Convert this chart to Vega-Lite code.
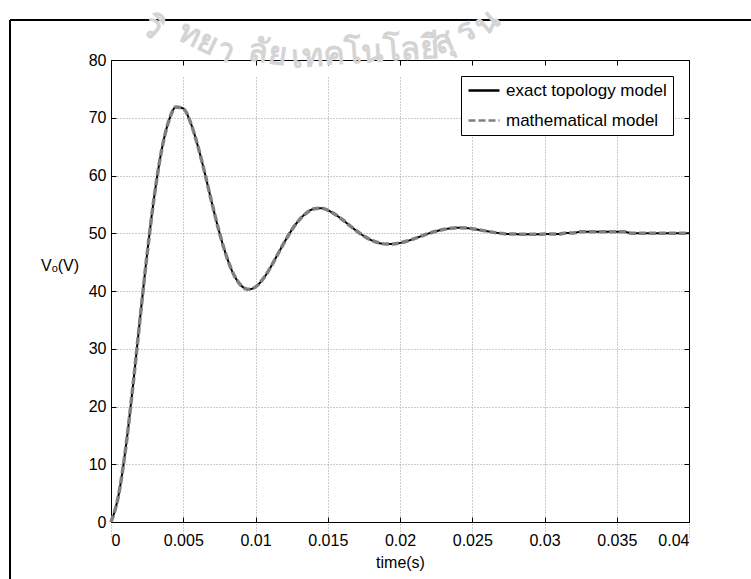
{
  "$schema": "https://vega.github.io/schema/vega-lite/v6.json",
  "width": 741,
  "height": 559,
  "autosize": {"type": "none"},
  "padding": {"left": 10, "top": 20, "right": 0, "bottom": 0},
  "background": "white",
  "config": {
    "view": {"stroke": "black", "strokeWidth": 2, "strokeDash": [741, 1300, 559, 0]},
    "font": "Liberation Sans",
    "axis": {"domainColor": "black", "domainWidth": 1, "tickColor": "black", "tickWidth": 1, "labelColor": "black", "labelFont": "Liberation Sans", "labelFontSize": 16, "titleColor": "black", "titleFont": "Liberation Sans", "titleFontSize": 16, "titleFontWeight": "normal", "gridColor": "#9a9a9a", "gridDash": [1, 2], "gridWidth": 1},
    "legend": {"title": null, "orient": "none", "legendX": 451, "legendY": 56, "symbolType": "stroke", "symbolSize": 961, "symbolStrokeWidth": 2.5, "labelFontSize": 17, "labelFont": "Liberation Sans", "labelColor": "black", "labelOffset": 5, "labelLimit": 400, "padding": 6, "clipHeight": 17, "rowPadding": 12, "strokeColor": "black", "fillColor": "white", "cornerRadius": 0},
    "text": {"fontSize": 32, "fontWeight": "bold", "color": "#d4d4d4", "baseline": "middle"}
  },
  "datasets": {
    "vo": [
      {"t":0,"v":0,"model":"exact topology model"},{"t":0.0005,"v":4.34,"model":"exact topology model"},{"t":0.001,"v":12.46,"model":"exact topology model"},{"t":0.0015,"v":23.16,"model":"exact topology model"},{"t":0.002,"v":34.95,"model":"exact topology model"},{"t":0.0025,"v":46.42,"model":"exact topology model"},{"t":0.003,"v":56.48,"model":"exact topology model"},{"t":0.0035,"v":64.33,"model":"exact topology model"},{"t":0.004,"v":69.46,"model":"exact topology model"},{"t":0.0045,"v":71.86,"model":"exact topology model"},{"t":0.005,"v":71.6,"model":"exact topology model"},{"t":0.0055,"v":69.2,"model":"exact topology model"},{"t":0.006,"v":65.21,"model":"exact topology model"},{"t":0.0065,"v":60.33,"model":"exact topology model"},{"t":0.007,"v":55.07,"model":"exact topology model"},{"t":0.0075,"v":50.15,"model":"exact topology model"},{"t":0.008,"v":45.97,"model":"exact topology model"},{"t":0.0085,"v":42.83,"model":"exact topology model"},{"t":0.009,"v":40.96,"model":"exact topology model"},{"t":0.0095,"v":40.29,"model":"exact topology model"},{"t":0.01,"v":40.71,"model":"exact topology model"},{"t":0.0105,"v":42.01,"model":"exact topology model"},{"t":0.011,"v":43.93,"model":"exact topology model"},{"t":0.0115,"v":46.17,"model":"exact topology model"},{"t":0.012,"v":48.45,"model":"exact topology model"},{"t":0.0125,"v":50.54,"model":"exact topology model"},{"t":0.013,"v":52.24,"model":"exact topology model"},{"t":0.0135,"v":53.45,"model":"exact topology model"},{"t":0.014,"v":54.2,"model":"exact topology model"},{"t":0.0145,"v":54.35,"model":"exact topology model"},{"t":0.015,"v":54.0,"model":"exact topology model"},{"t":0.0155,"v":53.29,"model":"exact topology model"},{"t":0.016,"v":52.38,"model":"exact topology model"},{"t":0.0165,"v":51.38,"model":"exact topology model"},{"t":0.017,"v":50.39,"model":"exact topology model"},{"t":0.0175,"v":49.52,"model":"exact topology model"},{"t":0.018,"v":48.82,"model":"exact topology model"},{"t":0.0185,"v":48.36,"model":"exact topology model"},{"t":0.019,"v":48.14,"model":"exact topology model"},{"t":0.0195,"v":48.14,"model":"exact topology model"},{"t":0.02,"v":48.33,"model":"exact topology model"},{"t":0.0205,"v":48.66,"model":"exact topology model"},{"t":0.021,"v":49.08,"model":"exact topology model"},{"t":0.0215,"v":49.53,"model":"exact topology model"},{"t":0.022,"v":49.97,"model":"exact topology model"},{"t":0.0225,"v":50.35,"model":"exact topology model"},{"t":0.023,"v":50.65,"model":"exact topology model"},{"t":0.0235,"v":50.85,"model":"exact topology model"},{"t":0.024,"v":50.95,"model":"exact topology model"},{"t":0.0245,"v":50.92,"model":"exact topology model"},{"t":0.025,"v":50.78,"model":"exact topology model"},{"t":0.0255,"v":50.58,"model":"exact topology model"},{"t":0.026,"v":50.36,"model":"exact topology model"},{"t":0.0265,"v":50.15,"model":"exact topology model"},{"t":0.027,"v":49.98,"model":"exact topology model"},{"t":0.0275,"v":49.86,"model":"exact topology model"},{"t":0.028,"v":49.85,"model":"exact topology model"},{"t":0.0285,"v":49.84,"model":"exact topology model"},{"t":0.029,"v":49.84,"model":"exact topology model"},{"t":0.0295,"v":49.84,"model":"exact topology model"},{"t":0.03,"v":49.85,"model":"exact topology model"},{"t":0.0305,"v":49.85,"model":"exact topology model"},{"t":0.031,"v":49.86,"model":"exact topology model"},{"t":0.0315,"v":50.05,"model":"exact topology model"},{"t":0.032,"v":50.06,"model":"exact topology model"},{"t":0.0325,"v":50.25,"model":"exact topology model"},{"t":0.033,"v":50.26,"model":"exact topology model"},{"t":0.0335,"v":50.26,"model":"exact topology model"},{"t":0.034,"v":50.26,"model":"exact topology model"},{"t":0.0345,"v":50.26,"model":"exact topology model"},{"t":0.035,"v":50.26,"model":"exact topology model"},{"t":0.0355,"v":50.25,"model":"exact topology model"},{"t":0.036,"v":50.02,"model":"exact topology model"},{"t":0.0365,"v":50.01,"model":"exact topology model"},{"t":0.037,"v":50.0,"model":"exact topology model"},{"t":0.0375,"v":50.0,"model":"exact topology model"},{"t":0.038,"v":50.0,"model":"exact topology model"},{"t":0.0385,"v":50.0,"model":"exact topology model"},{"t":0.039,"v":50.0,"model":"exact topology model"},{"t":0.0395,"v":50.0,"model":"exact topology model"},{"t":0.04,"v":50.0,"model":"exact topology model"},
      {"t":0,"v":0,"model":"mathematical model"},{"t":0.0005,"v":4.34,"model":"mathematical model"},{"t":0.001,"v":12.46,"model":"mathematical model"},{"t":0.0015,"v":23.16,"model":"mathematical model"},{"t":0.002,"v":34.95,"model":"mathematical model"},{"t":0.0025,"v":46.42,"model":"mathematical model"},{"t":0.003,"v":56.48,"model":"mathematical model"},{"t":0.0035,"v":64.33,"model":"mathematical model"},{"t":0.004,"v":69.46,"model":"mathematical model"},{"t":0.0045,"v":71.86,"model":"mathematical model"},{"t":0.005,"v":71.6,"model":"mathematical model"},{"t":0.0055,"v":69.2,"model":"mathematical model"},{"t":0.006,"v":65.21,"model":"mathematical model"},{"t":0.0065,"v":60.33,"model":"mathematical model"},{"t":0.007,"v":55.07,"model":"mathematical model"},{"t":0.0075,"v":50.15,"model":"mathematical model"},{"t":0.008,"v":45.97,"model":"mathematical model"},{"t":0.0085,"v":42.83,"model":"mathematical model"},{"t":0.009,"v":40.96,"model":"mathematical model"},{"t":0.0095,"v":40.29,"model":"mathematical model"},{"t":0.01,"v":40.71,"model":"mathematical model"},{"t":0.0105,"v":42.01,"model":"mathematical model"},{"t":0.011,"v":43.93,"model":"mathematical model"},{"t":0.0115,"v":46.17,"model":"mathematical model"},{"t":0.012,"v":48.45,"model":"mathematical model"},{"t":0.0125,"v":50.54,"model":"mathematical model"},{"t":0.013,"v":52.24,"model":"mathematical model"},{"t":0.0135,"v":53.45,"model":"mathematical model"},{"t":0.014,"v":54.2,"model":"mathematical model"},{"t":0.0145,"v":54.35,"model":"mathematical model"},{"t":0.015,"v":54.0,"model":"mathematical model"},{"t":0.0155,"v":53.29,"model":"mathematical model"},{"t":0.016,"v":52.38,"model":"mathematical model"},{"t":0.0165,"v":51.38,"model":"mathematical model"},{"t":0.017,"v":50.39,"model":"mathematical model"},{"t":0.0175,"v":49.52,"model":"mathematical model"},{"t":0.018,"v":48.82,"model":"mathematical model"},{"t":0.0185,"v":48.36,"model":"mathematical model"},{"t":0.019,"v":48.14,"model":"mathematical model"},{"t":0.0195,"v":48.14,"model":"mathematical model"},{"t":0.02,"v":48.33,"model":"mathematical model"},{"t":0.0205,"v":48.66,"model":"mathematical model"},{"t":0.021,"v":49.08,"model":"mathematical model"},{"t":0.0215,"v":49.53,"model":"mathematical model"},{"t":0.022,"v":49.97,"model":"mathematical model"},{"t":0.0225,"v":50.35,"model":"mathematical model"},{"t":0.023,"v":50.65,"model":"mathematical model"},{"t":0.0235,"v":50.85,"model":"mathematical model"},{"t":0.024,"v":50.95,"model":"mathematical model"},{"t":0.0245,"v":50.92,"model":"mathematical model"},{"t":0.025,"v":50.78,"model":"mathematical model"},{"t":0.0255,"v":50.58,"model":"mathematical model"},{"t":0.026,"v":50.36,"model":"mathematical model"},{"t":0.0265,"v":50.15,"model":"mathematical model"},{"t":0.027,"v":49.98,"model":"mathematical model"},{"t":0.0275,"v":49.86,"model":"mathematical model"},{"t":0.028,"v":49.85,"model":"mathematical model"},{"t":0.0285,"v":49.84,"model":"mathematical model"},{"t":0.029,"v":49.84,"model":"mathematical model"},{"t":0.0295,"v":49.84,"model":"mathematical model"},{"t":0.03,"v":49.85,"model":"mathematical model"},{"t":0.0305,"v":49.85,"model":"mathematical model"},{"t":0.031,"v":49.86,"model":"mathematical model"},{"t":0.0315,"v":50.05,"model":"mathematical model"},{"t":0.032,"v":50.06,"model":"mathematical model"},{"t":0.0325,"v":50.25,"model":"mathematical model"},{"t":0.033,"v":50.26,"model":"mathematical model"},{"t":0.0335,"v":50.26,"model":"mathematical model"},{"t":0.034,"v":50.26,"model":"mathematical model"},{"t":0.0345,"v":50.26,"model":"mathematical model"},{"t":0.035,"v":50.26,"model":"mathematical model"},{"t":0.0355,"v":50.25,"model":"mathematical model"},{"t":0.036,"v":50.02,"model":"mathematical model"},{"t":0.0365,"v":50.01,"model":"mathematical model"},{"t":0.037,"v":50.0,"model":"mathematical model"},{"t":0.0375,"v":50.0,"model":"mathematical model"},{"t":0.038,"v":50.0,"model":"mathematical model"},{"t":0.0385,"v":50.0,"model":"mathematical model"},{"t":0.039,"v":50.0,"model":"mathematical model"},{"t":0.0395,"v":50.0,"model":"mathematical model"},{"t":0.04,"v":50.0,"model":"mathematical model"}
    ]
  },
  "layer": [
    {
      "data": {"values": [{"t": 0.00284, "v": 85.7, "txt": "วิ"}]},
      "mark": {"type": "text", "angle": 40},
      "encoding": {"x": {"field": "t", "type": "quantitative", "axis": null}, "y": {"field": "v", "type": "quantitative", "axis": null}, "text": {"field": "txt"}}
    },
    {
      "data": {"values": [{"t": 0.00664, "v": 83.1, "txt": "ทยา"}]},
      "mark": {"type": "text", "angle": 25},
      "encoding": {"x": {"field": "t", "type": "quantitative", "axis": null}, "y": {"field": "v", "type": "quantitative", "axis": null}, "text": {"field": "txt"}}
    },
    {
      "data": {"values": [{"t": 0.01087, "v": 81.2, "txt": "ลัย"}]},
      "mark": {"type": "text", "angle": 8},
      "encoding": {"x": {"field": "t", "type": "quantitative", "axis": null}, "y": {"field": "v", "type": "quantitative", "axis": null}, "text": {"field": "txt"}}
    },
    {
      "data": {"values": [{"t": 0.01758, "v": 81.3, "txt": "เทคโนโลยี"}]},
      "mark": {"type": "text", "angle": -4},
      "encoding": {"x": {"field": "t", "type": "quantitative", "axis": null}, "y": {"field": "v", "type": "quantitative", "axis": null}, "text": {"field": "txt"}}
    },
    {
      "data": {"values": [{"t": 0.02298, "v": 83.1, "txt": "สุ"}]},
      "mark": {"type": "text", "angle": -22},
      "encoding": {"x": {"field": "t", "type": "quantitative", "axis": null}, "y": {"field": "v", "type": "quantitative", "axis": null}, "text": {"field": "txt"}}
    },
    {
      "data": {"values": [{"t": 0.02457, "v": 85.0, "txt": "ร"}]},
      "mark": {"type": "text", "angle": -32},
      "encoding": {"x": {"field": "t", "type": "quantitative", "axis": null}, "y": {"field": "v", "type": "quantitative", "axis": null}, "text": {"field": "txt"}}
    },
    {
      "data": {"values": [{"t": 0.02602, "v": 86.6, "txt": "น"}]},
      "mark": {"type": "text", "angle": -40},
      "encoding": {"x": {"field": "t", "type": "quantitative", "axis": null}, "y": {"field": "v", "type": "quantitative", "axis": null}, "text": {"field": "txt"}}
    },
    {
      "data": {"name": "vo"},
      "transform": [{"filter": "datum.model === 'exact topology model'"}],
      "mark": {"type": "line", "strokeWidth": 2, "interpolate": "monotone"},
      "encoding": {
        "x": {"field": "t", "type": "quantitative",
          "scale": {"domain": [0, 0.04], "range": [101, 679], "nice": false, "zero": false},
          "axis": {"orient": "bottom", "offset": -57, "values": [0, 0.005, 0.01, 0.015, 0.02, 0.025, 0.03, 0.035, 0.04], "format": "~g", "grid": true, "tickSize": -5, "labelPadding": 15, "title": "time(s)", "titleY": 45, "titleBaseline": "alphabetic"}},
        "y": {"field": "v", "type": "quantitative",
          "scale": {"domain": [0, 80], "range": [502, 40], "nice": false},
          "axis": {"orient": "left", "offset": -101, "values": [0, 10, 20, 30, 40, 50, 60, 70, 80], "grid": true, "tickSize": -5, "labelPadding": 10, "title": "Vₒ(V)", "titleAngle": 0, "titleX": -51.5, "titleY": 250, "titleAlign": "center", "titleBaseline": "alphabetic"}},
        "color": {"field": "model", "type": "nominal",
          "scale": {"domain": ["exact topology model", "mathematical model"], "range": ["#000000", "#808080"]}},
        "strokeDash": {"field": "model", "type": "nominal",
          "scale": {"domain": ["exact topology model", "mathematical model"], "range": [[1, 0], [7, 3]]}}
      }
    },
    {
      "data": {"name": "vo"},
      "transform": [{"filter": "datum.model === 'mathematical model'"}],
      "mark": {"type": "line", "strokeWidth": 3.5, "interpolate": "monotone"},
      "encoding": {
        "x": {"field": "t", "type": "quantitative",
          "axis": {"orient": "top", "offset": -40, "values": [0, 0.005, 0.01, 0.015, 0.02, 0.025, 0.03, 0.035, 0.04], "labels": false, "grid": false, "tickSize": -5, "title": null}},
        "y": {"field": "v", "type": "quantitative",
          "axis": {"orient": "right", "offset": -62, "values": [0, 10, 20, 30, 40, 50, 60, 70, 80], "labels": false, "grid": false, "tickSize": -5, "title": null}},
        "color": {"field": "model", "type": "nominal"},
        "strokeDash": {"field": "model", "type": "nominal"}
      }
    }
  ],
  "resolve": {"axis": {"x": "independent", "y": "independent"}}
}
